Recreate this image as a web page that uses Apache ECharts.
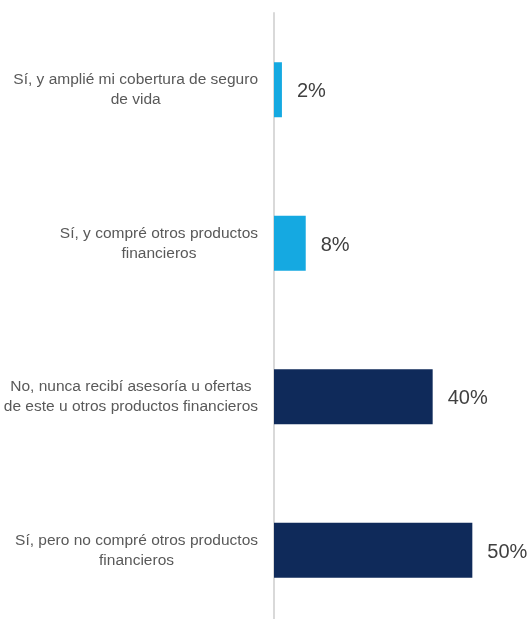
<!DOCTYPE html>
<html>
<head>
<meta charset="utf-8">
<script src="https://cdn.jsdelivr.net/npm/echarts@6/dist/echarts.min.js"></script>
<style>
  html, body { margin: 0; padding: 0; background: #ffffff; }
  #chart { width: 531px; height: 619px; }
</style>
</head>
<body>
<div id="chart"></div>
<script>
// Survey answers, top to bottom
const categories = [
  'Sí, y amplié mi cobertura de seguro\nde vida',
  'Sí, y compré otros productos\nfinancieros',
  'No, nunca recibí asesoría u ofertas\nde este u otros productos financieros',
  'Sí, pero no compré otros productos\nfinancieros'
];
// Share of respondents (%)
const values = [2, 8, 40, 50];
const barColors = ['#15a9e1', '#15a9e1', '#0f2a5a', '#0f2a5a'];

const sans = '"Liberation Sans", Arial, sans-serif';

const chart = echarts.init(document.getElementById('chart'), null, { renderer: 'canvas' });

chart.setOption({
  animation: false,
  backgroundColor: '#ffffff',
  grid: {
    left: 274, top: 13, width: 238, height: 614,
    containLabel: false,
    outerBoundsMode: 'none'
  },
  xAxis: {
    type: 'value',
    min: 0,
    max: 60,
    show: false
  },
  yAxis: {
    type: 'category',
    inverse: true,
    data: categories,
    axisLine: { show: true, lineStyle: { color: '#d9d9d9', width: 2 } },
    axisTick: { show: false },
    splitLine: { show: false },
    axisLabel: {
      margin: 16,
      align: 'right',
      formatter: function (v) {
        return v.split('\n').map(function (s) { return '{c|' + s + '}'; }).join('\n');
      },
      rich: {
        c: {
          align: 'center',
          color: '#595959',
          fontFamily: sans,
          fontSize: 15.5,
          lineHeight: 20
        }
      }
    }
  },
  series: [{
    type: 'bar',
    barWidth: 55,
    data: values.map(function (v, i) {
      return { value: v, itemStyle: { color: barColors[i] } };
    }),
    label: {
      show: true,
      position: 'right',
      distance: 15,
      offset: [0, 2],
      formatter: '{c}%',
      color: '#404040',
      fontFamily: sans,
      fontSize: 20
    }
  }]
});
</script>
</body>
</html>
